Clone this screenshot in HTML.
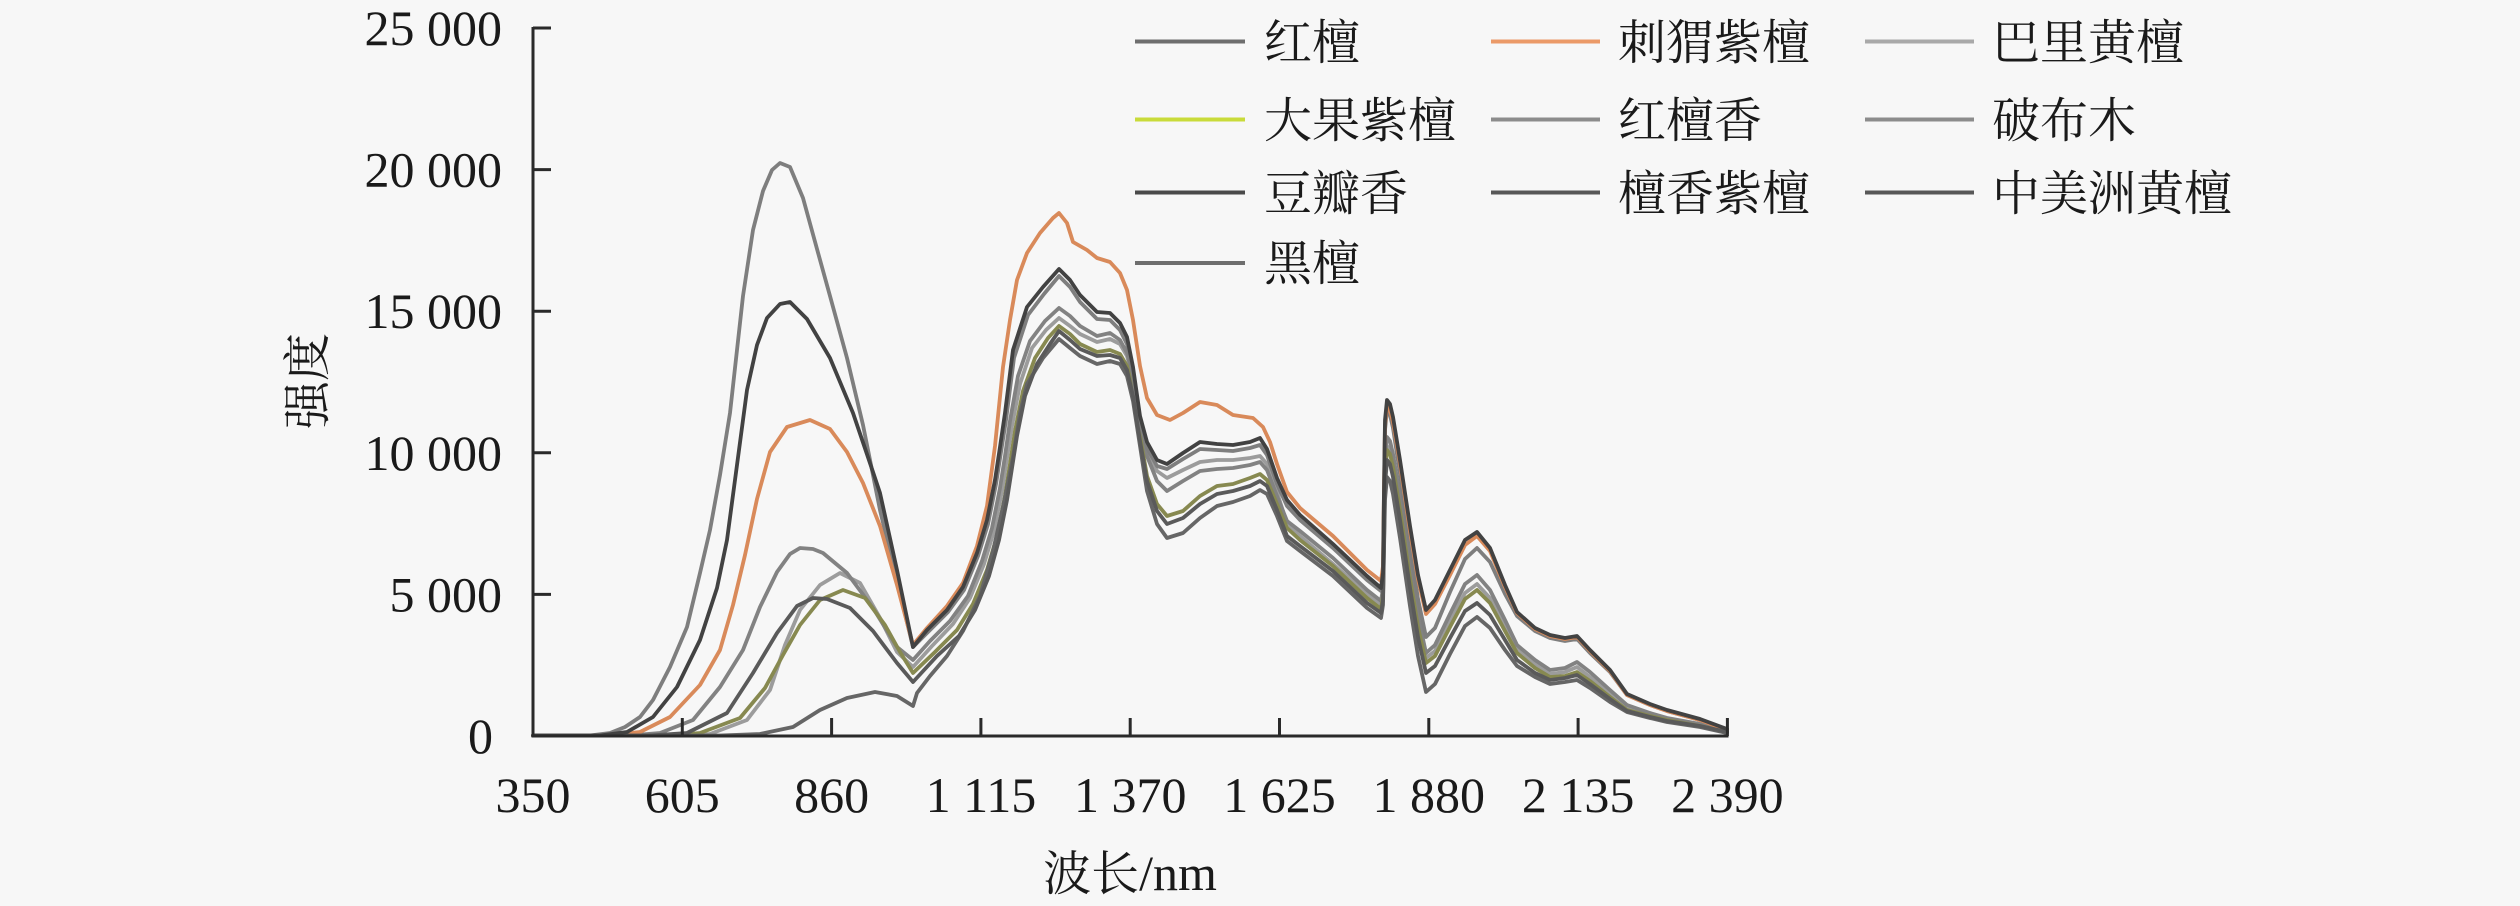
<!DOCTYPE html>
<html>
<head>
<meta charset="utf-8">
<style>
html,body{margin:0;padding:0;background:#f7f7f7;}
svg{display:block;}
.num{font-family:"Liberation Serif","Noto Serif CJK SC",serif;font-size:50px;fill:#1a1a1a;}
.cjk{font-family:"Liberation Serif","Noto Serif CJK SC",serif;font-size:48px;fill:#1a1a1a;}
.ln{fill:none;stroke-width:3.8;stroke-linejoin:round;stroke-linecap:round;}
</style>
</head>
<body>
<svg width="2520" height="906" viewBox="0 0 2520 906" xmlns="http://www.w3.org/2000/svg">
<rect x="0" y="0" width="2520" height="906" fill="#f7f7f7"/>

<!-- series -->
<polyline class="ln" stroke="#9c9c9c" points="533,735.5 680,735.5 710,734 747,720 770,690 785,645 800,610 820,585 840,573 860,583 880,618 897,652 913,667 932,646 953,624 970,598 984,564 994,531 1002,491 1007,458 1012,426 1020,384 1032,348 1046,330 1059,318 1070,326 1080,334 1097,342 1110,339 1120,344 1127,356 1133,378 1140,418 1147,451 1157,471 1167,478 1183,470 1200,462 1217,460 1233,460 1250,458 1260,456 1267,464 1277,492 1287,524 1300,536 1333,564 1367,594 1381,606 1383,593 1384,530 1385,470 1387,446 1390,450 1393,463 1400,505 1410,573 1418,622 1426,658 1435,651 1450,621 1465,593 1477,584 1490,598 1505,626 1517,649 1535,664 1550,674 1565,672 1577,667 1590,677 1610,694 1627,708 1650,715 1667,719 1700,725 1727,731"/>
<polyline class="ln" stroke="#828282" points="533,735.5 630,735.5 660,733 693,720 720,687 743,650 760,607 777,572 790,554 800,548 813,549 823,553 847,573 873,608 897,647 913,660 930,641 950,621 968,596 982,561 992,528 1000,488 1005,456 1010,421 1018,376 1030,341 1045,321 1059,308 1070,316 1080,326 1097,336 1110,333 1120,340 1127,353 1133,376 1140,418 1147,456 1157,481 1167,491 1183,481 1200,471 1217,469 1233,468 1250,465 1260,462 1267,470 1277,496 1287,521 1300,531 1333,558 1367,590 1381,601 1383,588 1384,520 1385,460 1387,437 1390,441 1393,454 1400,497 1410,567 1418,616 1426,653 1435,645 1450,614 1465,584 1477,575 1490,590 1505,620 1517,645 1535,660 1550,670 1565,668 1577,662 1590,672 1610,690 1627,705 1650,713 1667,718 1700,724 1727,731"/>
<polyline class="ln" stroke="#878950" points="533,735.5 670,735.5 700,733 740,718 765,688 783,655 800,625 820,600 843,590 865,598 885,625 900,652 913,673 935,652 957,630 973,604 987,570 997,536 1005,496 1010,464 1015,431 1023,391 1035,358 1048,338 1059,326 1070,334 1080,344 1097,352 1110,350 1120,354 1127,366 1133,391 1140,436 1147,476 1157,504 1167,516 1183,511 1200,496 1217,486 1233,484 1250,478 1260,474 1267,480 1277,504 1287,528 1300,540 1333,566 1367,598 1381,609 1383,596 1384,535 1385,475 1387,450 1390,454 1393,467 1400,510 1410,578 1418,627 1426,663 1435,656 1450,627 1465,599 1477,590 1490,603 1505,631 1517,653 1535,668 1550,677 1565,676 1577,672 1590,681 1610,697 1627,710 1650,716 1667,720 1700,726 1727,732"/>
<polyline class="ln" stroke="#7e7e7e" points="533,735.5 590,735.5 610,733 625,727 640,717 653,700 670,667 687,627 700,573 710,530 720,475 730,413 743,296 753,230 763,191 772,170 780,163 790,167 803,198 817,249 830,296 847,358 863,425 880,510 897,581 913,647 928,632 948,612 964,590 978,556 988,524 996,484 1001,452 1006,420 1014,358 1028,315 1044,294 1059,276 1070,287 1080,302 1097,319 1110,320 1120,330 1127,344 1133,374 1140,422 1147,448 1157,466 1167,469 1183,459 1200,449 1217,450 1233,451 1250,448 1260,445 1267,455 1277,484 1287,506 1300,520 1333,548 1367,580 1381,591 1383,578 1384,500 1385,430 1387,410 1390,415 1393,428 1400,474 1410,546 1418,599 1426,637 1435,628 1450,592 1465,559 1477,548 1490,562 1505,594 1517,616 1535,631 1550,638 1565,641 1577,639 1590,653 1610,672 1627,695 1650,705 1667,711 1700,720 1727,730"/>
<polyline class="ln" stroke="#d98a5a" points="533,735.5 610,735.5 640,732 670,717 700,685 720,650 733,605 745,555 757,499 770,452 787,427 810,420 830,429 847,452 863,483 880,526 897,585 913,645 927,628 947,606 963,583 977,546 987,506 995,446 1003,367 1010,320 1017,280 1027,253 1040,233 1053,218 1059,213 1067,223 1073,242 1087,250 1097,258 1110,262 1120,273 1127,290 1133,320 1140,366 1147,398 1157,415 1170,420 1183,413 1200,402 1217,405 1233,415 1253,418 1263,427 1270,442 1277,464 1287,492 1300,508 1333,536 1367,570 1381,581 1383,566 1384,490 1385,425 1387,406 1390,410 1393,422 1400,464 1410,531 1418,579 1426,614 1435,604 1450,575 1465,545 1477,536 1490,551 1505,587 1517,613 1535,629 1550,636 1565,639 1577,637 1590,651 1610,671 1627,695 1650,705 1667,711 1700,720 1727,730"/>
<polyline class="ln" stroke="#666666" points="533,735.5 720,735.5 760,734 793,727 820,710 847,698 875,692 897,696 913,706 917,693 930,676 947,656 963,631 980,596 993,551 1003,507 1013,457 1020,413 1027,384 1043,358 1059,339 1070,348 1080,356 1097,364 1110,361 1120,364 1127,376 1133,401 1140,446 1147,491 1157,524 1167,538 1183,533 1200,518 1217,506 1233,502 1250,496 1260,490 1267,494 1277,516 1287,541 1300,551 1333,576 1367,608 1381,618 1383,605 1384,550 1385,500 1387,477 1390,481 1393,494 1400,538 1410,606 1418,656 1426,692 1435,684 1450,654 1465,626 1477,617 1490,628 1505,650 1517,666 1535,677 1550,684 1565,682 1577,680 1590,688 1610,702 1627,712 1650,718 1667,722 1700,727 1727,733"/>
<polyline class="ln" stroke="#5a5a5a" points="533,735.5 650,735.5 687,733 727,713 753,673 777,633 797,606 813,598 827,599 850,608 873,631 897,663 913,682 937,656 959,636 975,610 989,576 999,540 1007,500 1012,468 1017,436 1025,396 1037,364 1050,344 1059,331 1070,340 1080,349 1097,356 1110,355 1120,358 1127,370 1133,396 1140,441 1147,481 1157,511 1167,524 1183,518 1200,504 1217,494 1233,491 1250,486 1260,481 1267,486 1277,510 1287,536 1300,546 1333,571 1367,603 1381,613 1383,600 1384,545 1385,485 1387,460 1390,464 1393,477 1400,520 1410,588 1418,637 1426,673 1435,666 1450,638 1465,611 1477,603 1490,615 1505,640 1517,660 1535,673 1550,680 1565,678 1577,675 1590,684 1610,699 1627,711 1650,717 1667,721 1700,726 1727,732"/>
<polyline class="ln" stroke="#424242" points="533,735.5 600,735.5 627,732 653,717 677,687 700,640 717,588 727,540 737,465 747,390 757,345 767,318 780,304 790,302 807,319 830,358 853,413 873,472 880,493 897,570 913,647 927,630 947,610 963,587 977,553 987,520 995,480 1000,447 1005,413 1013,350 1027,307 1043,287 1059,269 1070,280 1080,295 1097,312 1110,313 1120,323 1127,337 1133,367 1140,416 1147,442 1157,460 1167,464 1183,453 1200,442 1217,444 1233,445 1250,442 1260,438 1267,449 1277,478 1287,500 1300,515 1333,544 1367,576 1381,588 1383,573 1384,490 1385,420 1387,400 1390,404 1393,417 1400,460 1410,526 1418,575 1426,610 1435,600 1450,570 1465,540 1477,532 1490,548 1505,585 1517,612 1535,628 1550,635 1565,638 1577,636 1590,650 1610,670 1627,694 1650,704 1667,710 1700,719 1727,729"/>

<!-- axes -->
<g stroke="#2a2a2a" stroke-width="3" fill="none">
  <line x1="533" y1="27" x2="533" y2="737.5"/>
  <line x1="531.5" y1="736" x2="1728.5" y2="736"/>
  <line x1="533" y1="28" x2="551" y2="28"/>
  <line x1="533" y1="169.6" x2="551" y2="169.6"/>
  <line x1="533" y1="311.2" x2="551" y2="311.2"/>
  <line x1="533" y1="452.8" x2="551" y2="452.8"/>
  <line x1="533" y1="594.4" x2="551" y2="594.4"/>
  <line x1="682.3" y1="736" x2="682.3" y2="718"/>
  <line x1="831.6" y1="736" x2="831.6" y2="718"/>
  <line x1="980.9" y1="736" x2="980.9" y2="718"/>
  <line x1="1130.2" y1="736" x2="1130.2" y2="718"/>
  <line x1="1279.5" y1="736" x2="1279.5" y2="718"/>
  <line x1="1428.8" y1="736" x2="1428.8" y2="718"/>
  <line x1="1578.1" y1="736" x2="1578.1" y2="718"/>
  <line x1="1727.4" y1="736" x2="1727.4" y2="718"/>
</g>

<!-- y tick labels -->
<g class="num" text-anchor="end">
  <text x="502" y="45">25 000</text>
  <text x="502" y="186.6">20 000</text>
  <text x="502" y="328.2">15 000</text>
  <text x="502" y="469.8">10 000</text>
  <text x="502" y="611.4">5 000</text>
  <text x="493" y="753">0</text>
</g>

<!-- x tick labels -->
<g class="num" text-anchor="middle">
  <text x="533" y="812">350</text>
  <text x="682.3" y="812">605</text>
  <text x="831.6" y="812">860</text>
  <text x="980.9" y="812">1 115</text>
  <text x="1130.2" y="812">1 370</text>
  <text x="1279.5" y="812">1 625</text>
  <text x="1428.8" y="812">1 880</text>
  <text x="1578.1" y="812">2 135</text>
  <text x="1727.4" y="812">2 390</text>
</g>

<!-- axis titles -->
<text class="cjk" x="1130" y="890" text-anchor="middle">波长<tspan style="font-family:'Liberation Serif',serif;font-size:50px">/nm</tspan></text>
<text class="cjk" x="0" y="0" text-anchor="middle" transform="translate(324,381) rotate(-90)">强度</text>

<!-- legend -->
<g stroke-width="4" fill="none">
  <line x1="1135" y1="41.5" x2="1245" y2="41.5" stroke="#6e6e6e"/>
  <line x1="1491" y1="41.5" x2="1600" y2="41.5" stroke="#eb9a68"/>
  <line x1="1865" y1="41.5" x2="1974" y2="41.5" stroke="#a9a9a9"/>
  <line x1="1135" y1="119.5" x2="1245" y2="119.5" stroke="#c9db3a"/>
  <line x1="1491" y1="119.5" x2="1600" y2="119.5" stroke="#8c8c8c"/>
  <line x1="1865" y1="119.5" x2="1974" y2="119.5" stroke="#8c8c8c"/>
  <line x1="1135" y1="192.5" x2="1245" y2="192.5" stroke="#4a4a4a"/>
  <line x1="1491" y1="192.5" x2="1600" y2="192.5" stroke="#585858"/>
  <line x1="1865" y1="192.5" x2="1974" y2="192.5" stroke="#585858"/>
  <line x1="1135" y1="263" x2="1245" y2="263" stroke="#6e6e6e"/>
</g>
<g class="cjk">
  <text x="1264" y="59">红檀</text>
  <text x="1618" y="59">刺猬紫檀</text>
  <text x="1992" y="59">巴里黄檀</text>
  <text x="1264" y="137">大果紫檀</text>
  <text x="1618" y="137">红檀香</text>
  <text x="1992" y="137">破布木</text>
  <text x="1264" y="210">豆瓣香</text>
  <text x="1618" y="210">檀香紫檀</text>
  <text x="1992" y="210">中美洲黄檀</text>
  <text x="1264" y="280">黑檀</text>
</g>
</svg>
</body>
</html>
